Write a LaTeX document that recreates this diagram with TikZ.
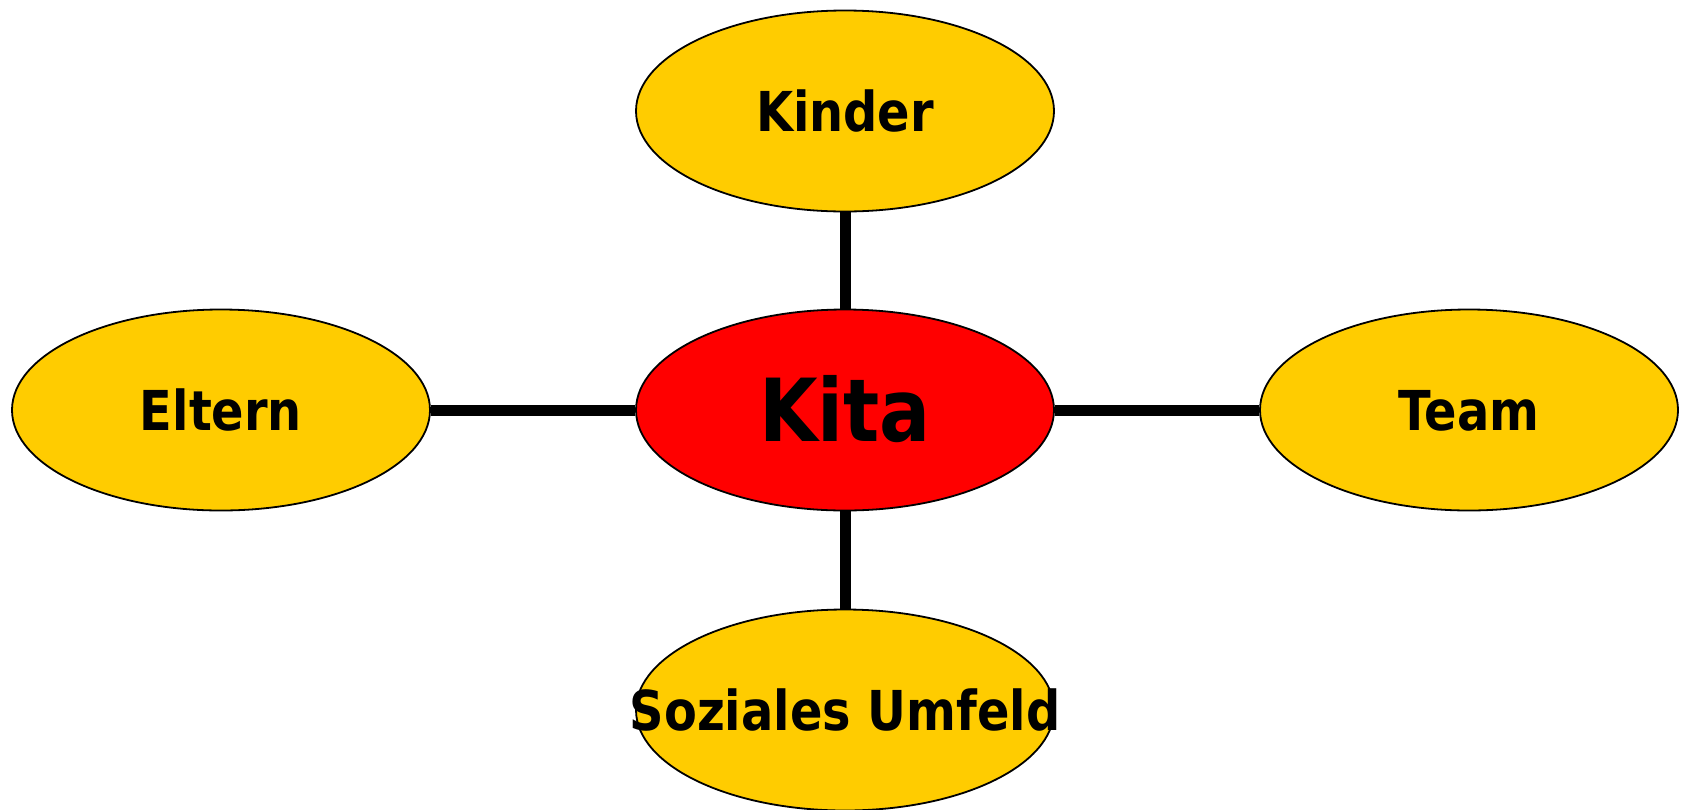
\documentclass[tikz,border=0pt]{standalone}
\usepackage{fontspec}
\setmainfont{DejaVu Sans}[FakeStretch=0.87]
\usetikzlibrary{shapes.geometric}
\definecolor{petal}{RGB}{255,204,0}
\definecolor{hub}{RGB}{255,0,0}
\begin{document}
\begin{tikzpicture}[x=1pt,y=-1pt,
  bubble/.style={ellipse, draw=black, line width=1.8pt, fill=petal,
    minimum width=418pt, minimum height=201pt, inner sep=0pt,
    font=\fontsize{55}{60}\selectfont\bfseries,
    text height=40pt, text depth=0pt},
  centre/.style={bubble, fill=hub,
    font=\fontsize{87}{90}\selectfont\bfseries, text height=63pt},
  link/.style={line width=11pt}]
\useasboundingbox (0,0) rectangle (1683,809);
% hub and the four surrounding groups
\node[centre] (kita)   at (845,410)  {\makebox[0pt]{Kita}};
\node[bubble] (kinder) at (845,111)  {\makebox[0pt]{Kinder}};
\node[bubble] (eltern) at (221,410)  {\makebox[0pt]{Eltern}};
\node[bubble] (team)   at (1469,410) {\makebox[0pt]{Team}};
\node[bubble] (umfeld) at (845,710)  {\makebox[0pt]{Soziales Umfeld}};
% spokes
\draw[link] (kita) -- (kinder);
\draw[link] (kita) -- (eltern);
\draw[link] (kita) -- (team);
\draw[link] (kita) -- (umfeld);
\end{tikzpicture}
\end{document}
